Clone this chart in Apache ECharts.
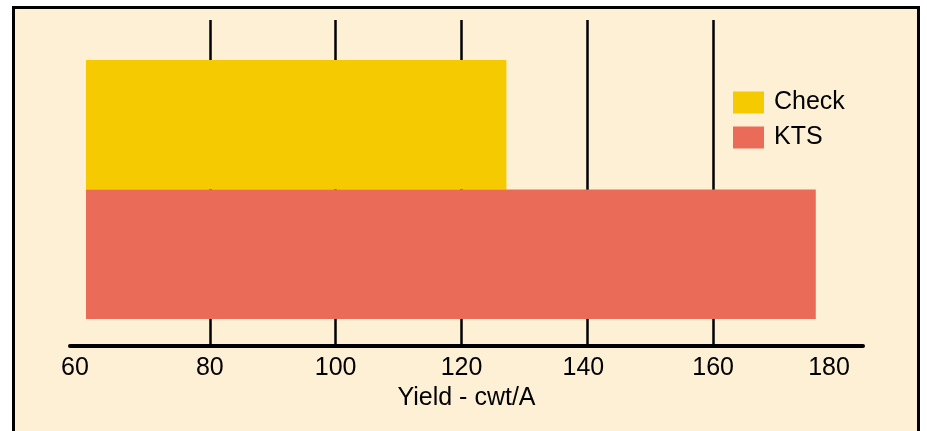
<!DOCTYPE html>
<html>
<head>
<meta charset="utf-8">
<script src="https://cdn.jsdelivr.net/npm/echarts@6/dist/echarts.min.js"></script>
<style>
  html, body { margin: 0; padding: 0; background: #ffffff; }
  #chart { width: 927px; height: 431px; }
</style>
</head>
<body>
<div id="chart"></div>
<script>
// Yield comparison, cwt per acre
const categories = ['Check', 'KTS'];
const checkValues = [127, '-'];
const ktsValues = ['-', 176.3];
const tickLabels = [60, 80, 100, 120, 140, 160, 180];
const gridTicks = [80, 100, 120, 140, 160];

const FONT = '"Liberation Sans", Arial, Helvetica, sans-serif';
const FS = 25;
const CREAM = '#FEF0D5';
const YELLOW = '#F5CA00';
const SALMON = '#EB6B59';

// horizontal shift (px) for a few end labels
const labelShift = { 60: 18, 140: 8, 180: 20 };

const chart = echarts.init(document.getElementById('chart'), null, { renderer: 'canvas' });

chart.setOption({
  backgroundColor: '#ffffff',
  animation: false,
  graphic: [{
    type: 'rect',
    z: -10,
    silent: true,
    shape: { x: 13.5, y: 7.5, width: 905, height: 440 },
    style: { fill: CREAM, stroke: '#000000', lineWidth: 3 }
  }],
  legend: {
    orient: 'vertical',
    left: 728,
    top: 85,
    itemWidth: 31,
    itemHeight: 22,
    itemGap: 10,
    icon: 'rect',
    data: categories,
    textStyle: { fontFamily: FONT, fontSize: FS, color: '#000', padding: [0, 0, 0, 5] }
  },
  grid: [
    // bars
    { left: 86, right: 88, top: 60, bottom: 112 },
    // axis line, ticks and labels
    { left: 70, right: 64, top: 20, bottom: 85 }
  ],
  xAxis: [
    { gridIndex: 0, type: 'value', min: 60, max: 180, show: false },
    {
      gridIndex: 1,
      type: 'value',
      min: 60 - 14 * 120 / 755,
      max: 180 + 24 * 120 / 755,
      name: 'Yield - cwt/A',
      nameLocation: 'middle',
      nameGap: 40,
      nameTextStyle: { fontFamily: FONT, fontSize: FS, color: '#000' },
      axisLine: { show: true, lineStyle: { color: '#000', width: 4 } },
      axisTick: {
        show: true,
        inside: true,
        length: 326,
        customValues: gridTicks,
        lineStyle: { color: '#000', width: 2.5 }
      },
      axisLabel: {
        show: true,
        customValues: tickLabels,
        margin: 10,
        fontFamily: FONT,
        fontSize: FS,
        color: '#000',
        formatter: function (v) {
          return labelShift[v] ? '{s' + v + '|' + v + '}' : String(v);
        },
        rich: {
          s60: { fontFamily: FONT, fontSize: FS, color: '#000', padding: [0, labelShift[60], 0, 0] },
          s140: { fontFamily: FONT, fontSize: FS, color: '#000', padding: [0, labelShift[140], 0, 0] },
          s180: { fontFamily: FONT, fontSize: FS, color: '#000', padding: [0, labelShift[180], 0, 0] }
        }
      },
      splitLine: { show: false }
    }
  ],
  yAxis: [
    { gridIndex: 0, type: 'category', data: categories, inverse: true, show: false },
    { gridIndex: 1, type: 'value', show: false }
  ],
  series: [
    {
      name: 'Check',
      type: 'bar',
      xAxisIndex: 0,
      yAxisIndex: 0,
      data: checkValues,
      barGap: '-100%',
      barCategoryGap: '0%',
      itemStyle: { color: YELLOW }
    },
    {
      name: 'KTS',
      type: 'bar',
      xAxisIndex: 0,
      yAxisIndex: 0,
      data: ktsValues,
      barGap: '-100%',
      barCategoryGap: '0%',
      itemStyle: { color: SALMON }
    }
  ]
});
</script>
</body>
</html>
